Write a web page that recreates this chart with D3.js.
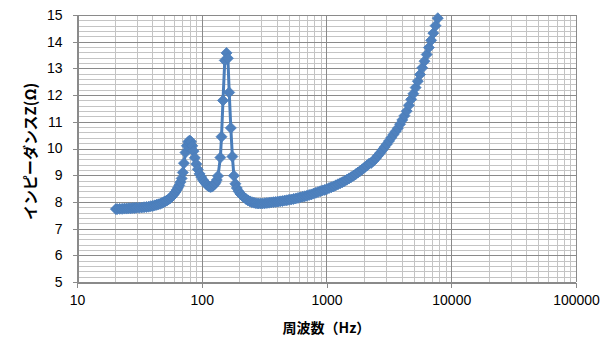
<!DOCTYPE html>
<meta charset="utf-8">
<script src="https://d3js.org/d3.v7.min.js"></script>
<style>
  body { margin: 0; background: #fff; }
  .tick text { font-family: "Liberation Sans", Arial, sans-serif; font-size: 14px; fill: #000; }
</style>
<body>
<div id="chart"></div>
<script>

// frequency (Hz) of each measured point
var freq = [20.5, 21, 22, 23, 24, 25, 26, 27, 28, 29, 30, 31.5, 33, 34.5, 36, 37.5, 39, 40.5, 42, 43.5,
  45, 46.5, 48, 49.5, 51, 52.5, 54, 55.5, 57, 58.5, 60, 61.5, 63, 64.5, 66, 67.5, 69, 70.5, 72, 74,
  76, 78, 80, 82, 84, 86, 88, 90.5, 93, 96, 99, 102, 105, 108, 111, 114, 117, 120, 123, 126,
  129, 132, 135, 141, 144, 148, 153, 158, 162, 166, 171, 176, 181, 186, 191, 197, 204, 211, 218, 226,
  234, 243, 252, 262, 272, 283, 295, 307, 320, 333, 347, 361, 376, 392, 408, 425, 443, 462, 481, 501,
  522, 544, 567, 591, 616, 642, 669, 697, 726, 756, 788, 821, 855, 891, 928, 967, 1007, 1049, 1093, 1139,
  1187, 1236, 1288, 1342, 1398, 1456, 1517, 1580, 1646, 1715, 1787, 1861, 1939, 2020, 2105, 2193, 2284, 2380, 2479, 2583,
  2691, 2803, 2920, 3042, 3169, 3302, 3440, 3583, 3733, 3889, 4051, 4220, 4397, 4580, 4772, 4971, 5179, 5395, 5620, 5855,
  6100, 6355, 6620, 6897, 7185, 7485, 7800];

// impedance Z (ohm) at each frequency
var impedance = [7.73, 7.73, 7.74, 7.74, 7.75, 7.75, 7.76, 7.76, 7.77, 7.77, 7.78, 7.78, 7.79, 7.8, 7.81, 7.82, 7.84, 7.85, 7.87, 7.89,
  7.91, 7.93, 7.96, 7.99, 8.02, 8.05, 8.09, 8.13, 8.18, 8.24, 8.3, 8.37, 8.45, 8.53, 8.62, 8.74, 8.88, 9.1, 9.45, 9.85,
  10.1, 10.25, 10.3, 10.25, 10.1, 9.9, 9.65, 9.42, 9.22, 9.05, 8.93, 8.83, 8.75, 8.68, 8.62, 8.58, 8.56, 8.57, 8.6, 8.65,
  8.72, 8.82, 8.97, 9.66, 10.44, 11.8, 13.3, 13.58, 13.38, 12.1, 10.77, 9.7, 8.98, 8.68, 8.52, 8.4, 8.3, 8.23, 8.17, 8.11,
  8.06, 8.02, 7.99, 7.97, 7.95, 7.94, 7.94, 7.94, 7.95, 7.96, 7.97, 7.98, 7.99, 8.0, 8.01, 8.02, 8.03, 8.05, 8.06, 8.08,
  8.09, 8.11, 8.13, 8.15, 8.17, 8.19, 8.21, 8.23, 8.26, 8.28, 8.31, 8.34, 8.37, 8.4, 8.43, 8.45, 8.48, 8.52, 8.55, 8.58,
  8.62, 8.66, 8.7, 8.74, 8.78, 8.83, 8.88, 8.93, 8.98, 9.04, 9.1, 9.16, 9.22, 9.29, 9.36, 9.43, 9.46, 9.54, 9.63, 9.73,
  9.83, 9.94, 10.05, 10.16, 10.28, 10.4, 10.52, 10.64, 10.76, 10.91, 11.07, 11.23, 11.4, 11.62, 11.84, 12.05, 12.28, 12.52, 12.77, 13.02,
  13.27, 13.52, 13.78, 14.05, 14.32, 14.6, 14.88];

var xTicks = [10, 100, 1000, 10000, 100000];
var yTicks = [5, 6, 7, 8, 9, 10, 11, 12, 13, 14, 15];

var xTitle = "周波数（Hz）";
var yTitle = "インピーダンスZ(Ω)";

var W = 608, H = 345;
var pLeft = 77, pRight = 576, pTop = 15, pBottom = 282;

var svg = d3.select("#chart").append("svg")
  .attr("width", W)
  .attr("height", H);

var x = d3.scaleLog().domain([10, 100000]).range([pLeft, pRight]);
var y = d3.scaleLinear().domain([5, 15]).range([pBottom, pTop]);

// minor gridlines
var minorX = [];
xTicks.slice(0, -1).forEach(function(d) {
  for (var k = 2; k <= 9; k++) minorX.push(d * k);
});
var minorY = d3.range(5, 15.001, 0.2).filter(function(v) { return Math.abs(v - Math.round(v)) > 0.01; });

var grid = svg.append("g").attr("shape-rendering", "crispEdges");
grid.selectAll(".mx").data(minorX).enter().append("line")
  .attr("x1", function(d) { return Math.round(x(d)) + 0.5; })
  .attr("x2", function(d) { return Math.round(x(d)) + 0.5; })
  .attr("y1", pTop).attr("y2", pBottom)
  .attr("stroke", "#c4c4c4");
grid.selectAll(".my").data(minorY).enter().append("line")
  .attr("y1", function(d) { return Math.round(y(d)) + 0.5; })
  .attr("y2", function(d) { return Math.round(y(d)) + 0.5; })
  .attr("x1", pLeft).attr("x2", pRight)
  .attr("stroke", "#c4c4c4");

// major gridlines
grid.selectAll(".Mx").data(xTicks).enter().append("line")
  .attr("x1", function(d) { return Math.round(x(d)) + 0.5; })
  .attr("x2", function(d) { return Math.round(x(d)) + 0.5; })
  .attr("y1", pTop).attr("y2", pBottom)
  .attr("stroke", "#8a8a8a");
grid.selectAll(".My").data(yTicks).enter().append("line")
  .attr("y1", function(d) { return Math.round(y(d)) + 0.5; })
  .attr("y2", function(d) { return Math.round(y(d)) + 0.5; })
  .attr("x1", pLeft).attr("x2", pRight)
  .attr("stroke", "#8a8a8a");

// axes
svg.append("g")
  .attr("transform", "translate(" + (pLeft + 0.5) + ",0)")
  .call(d3.axisLeft(y).tickValues(yTicks).tickSize(5).tickPadding(10).tickFormat(d3.format("d")));
svg.append("g")
  .attr("transform", "translate(0," + (pBottom + 0.5) + ")")
  .call(d3.axisBottom(x).tickValues(xTicks).tickSize(5).tickPadding(8).tickFormat(d3.format("d")));
svg.selectAll(".domain, .tick line").attr("stroke", "#8a8a8a").attr("shape-rendering", "crispEdges");

// axis titles
svg.append("text")
  .attr("x", (pLeft + pRight) / 2)
  .attr("y", 333)
  .attr("text-anchor", "middle")
  .style("font-family", "'Noto Sans CJK JP', sans-serif")
  .style("font-weight", "bold")
  .style("font-size", "14px")
  .text(xTitle);

svg.append("text")
  .attr("transform", "translate(29," + ((pTop + pBottom) / 2 + 3) + ") rotate(-90)")
  .attr("text-anchor", "middle")
  .attr("dominant-baseline", "central")
  .style("font-family", "'Noto Sans CJK JP', sans-serif")
  .style("font-weight", "bold")
  .style("font-size", "15px")
  .text(yTitle);

// series
var pts = freq.map(function(f, i) { return [f, impedance[i]]; });
var blue = "#4a7ebb";

svg.append("path")
  .datum(pts)
  .attr("fill", "none")
  .attr("stroke", blue)
  .attr("stroke-width", 3)
  .attr("stroke-linejoin", "round")
  .attr("d", d3.line().x(function(d) { return x(d[0]); }).y(function(d) { return y(d[1]); }));

var r = 5.5;
svg.selectAll(".pt").data(pts).enter().append("path")
  .attr("transform", function(d) { return "translate(" + x(d[0]) + "," + y(d[1]) + ")"; })
  .attr("d", "M0," + (-r) + "L" + r + ",0L0," + r + "L" + (-r) + ",0Z")
  .attr("fill", "#4f81bd")
  .attr("stroke", blue)
  .attr("stroke-width", 0.8);

</script>
</body>
